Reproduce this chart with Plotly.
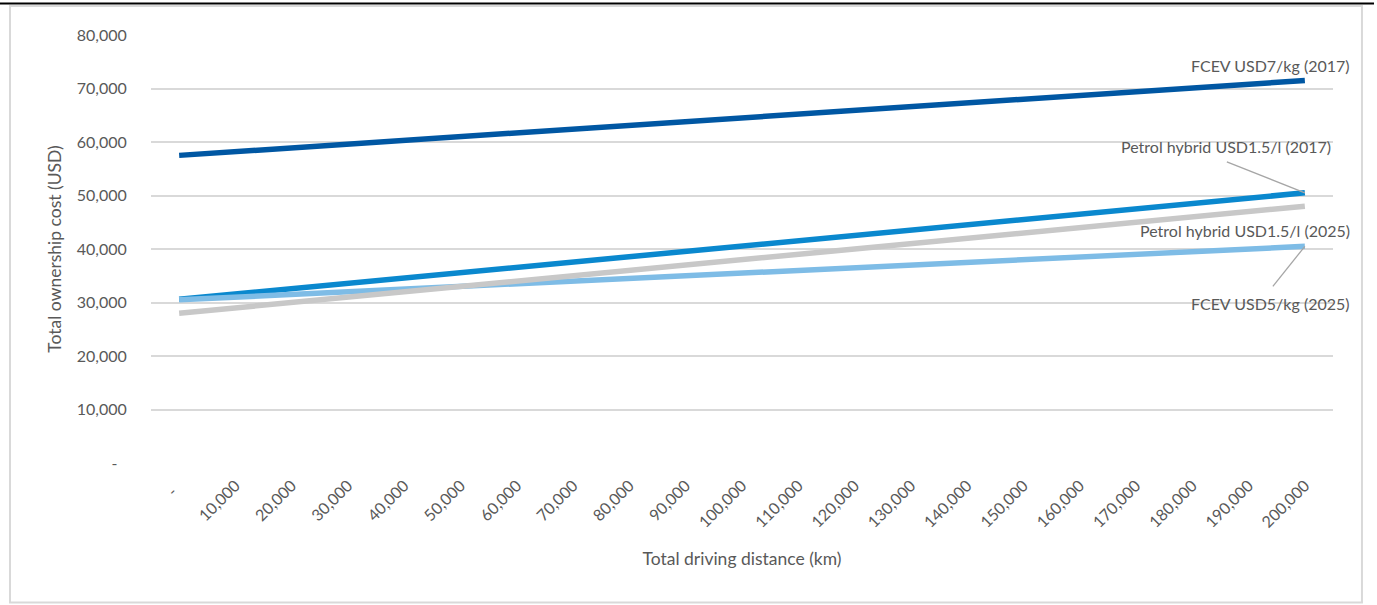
import plotly.graph_objects as go

# Total driving distance (km) categories and their axis labels
# (zero is shown as an accounting-style dash with trailing padding)
distance_km = [0, 10000, 20000, 30000, 40000, 50000, 60000, 70000, 80000, 90000, 100000,
               110000, 120000, 130000, 140000, 150000, 160000, 170000, 180000, 190000, 200000]
distance_labels = ["-\u2007", "10,000", "20,000", "30,000", "40,000", "50,000", "60,000", "70,000",
                   "80,000", "90,000", "100,000", "110,000", "120,000", "130,000", "140,000",
                   "150,000", "160,000", "170,000", "180,000", "190,000", "200,000"]

# Total ownership cost (USD) per series
fcev_7_2017 = [57500, 58200, 58900, 59600, 60300, 61000, 61700, 62400, 63100, 63800, 64500,
               65200, 65900, 66600, 67300, 68000, 68700, 69400, 70100, 70800, 71500]
petrol_2017 = [30600, 31600, 32600, 33600, 34600, 35600, 36600, 37600, 38600, 39600, 40600,
               41600, 42600, 43600, 44600, 45600, 46600, 47600, 48600, 49600, 50500]
fcev_5_2025 = [30500, 31000, 31500, 32000, 32500, 33000, 33500, 34000, 34500, 35000, 35500,
               36000, 36500, 37000, 37500, 38000, 38500, 39000, 39500, 40000, 40500]
petrol_2025 = [28000, 29000, 30000, 31000, 32000, 33000, 34000, 35000, 36000, 37000, 38000,
               39000, 40000, 41000, 42000, 43000, 44000, 45000, 46000, 47000, 48000]

y_ticks = [0, 10000, 20000, 30000, 40000, 50000, 60000, 70000, 80000]
y_tick_labels = ["-\u2007", "10,000", "20,000", "30,000", "40,000", "50,000", "60,000", "70,000", "80,000"]

FONT = "Lato"
TEXT = "#595959"
LEADER = "#A6A6A6"

series = [
    ("FCEV USD7/kg (2017)", fcev_7_2017, "#0057A3"),
    ("Petrol hybrid USD1.5/l (2017)", petrol_2017, "#0A88CE"),
    ("FCEV USD5/kg (2025)", fcev_5_2025, "#7EBCE6"),
    ("Petrol hybrid USD1.5/l (2025)", petrol_2025, "#C8C8C8"),
]

fig = go.Figure()
for name, vals, color in series:
    fig.add_trace(go.Scatter(
        x=distance_km, y=vals, name=name, mode="lines",
        line=dict(color=color, width=5.5),
        showlegend=False, hoverinfo="x+y+name",
    ))

last_x = distance_km[-1]
ann_font = dict(family=FONT, size=16, color=TEXT)


def end_label(text, value, xshift, yshift, xanchor="right"):
    return dict(x=last_x, y=value, xref="x", yref="y", text=text, showarrow=False,
                xanchor=xanchor, yanchor="middle", xshift=xshift, yshift=yshift, font=ann_font)


annotations = [
    end_label("FCEV USD7/kg (2017)", fcev_7_2017[-1], 47, 15),
    end_label("Petrol hybrid USD1.5/l (2017)", petrol_2017[-1], -79, 46, xanchor="center"),
    end_label("Petrol hybrid USD1.5/l (2025)", petrol_2025[-1], 47, -24),
    end_label("FCEV USD5/kg (2025)", fcev_5_2025[-1], 47, -57),
]


def leader(value, dx, dy):
    # thin connector from a series end point to its label, offsets in pixels
    return dict(type="line", xref="x", yref="y", xsizemode="pixel", ysizemode="pixel",
                xanchor=last_x, yanchor=value, x0=0, y0=0, x1=dx, y1=dy,
                line=dict(color=LEADER, width=1.3), layer="above")


fig.update_layout(
    width=1377, height=605,
    margin=dict(l=151, r=44, t=35, b=142),
    paper_bgcolor="white", plot_bgcolor="white",
    font=dict(family=FONT, size=14, color=TEXT),
    annotations=annotations,
    shapes=[
        # outer chart border
        dict(type="rect", xref="paper", yref="paper", x0=-0.1193, x1=1.0245, y0=-0.3259, y1=1.0678,
             line=dict(color="#D9D9D9", width=2), fillcolor="rgba(0,0,0,0)", layer="below"),
        # dark rule along the top of the page
        dict(type="line", xref="paper", yref="paper", x0=-0.1290, x1=1.0347, y0=1.0736, y1=1.0736,
             line=dict(color="black", width=2)),
        leader(petrol_2017[-1], -78, 31),
        leader(fcev_5_2025[-1], -32, -40),
    ],
)

fig.update_xaxes(
    range=[-5000, 205000], tickmode="array", tickvals=distance_km, ticktext=distance_labels,
    tickangle=-45, showgrid=False, zeroline=False, showline=False,
    ticks="outside", ticklen=6, tickcolor="rgba(0,0,0,0)",
    tickfont=dict(family=FONT, size=16, color=TEXT),
    title=dict(text="Total driving distance (km)", standoff=22,
               font=dict(family=FONT, size=17.5, color=TEXT)),
)
fig.update_yaxes(
    range=[0, 80000], tickmode="array", tickvals=y_ticks, ticktext=y_tick_labels,
    showgrid=True, gridcolor="#D9D9D9", gridwidth=1.5, zeroline=False, showline=False,
    ticks="outside", ticklen=20, tickcolor="rgba(0,0,0,0)",
    tickfont=dict(family=FONT, size=16, color=TEXT),
    title=dict(text="Total ownership cost (USD)", standoff=10,
               font=dict(family=FONT, size=17.5, color=TEXT)),
)

fig.write_html("out.html")
